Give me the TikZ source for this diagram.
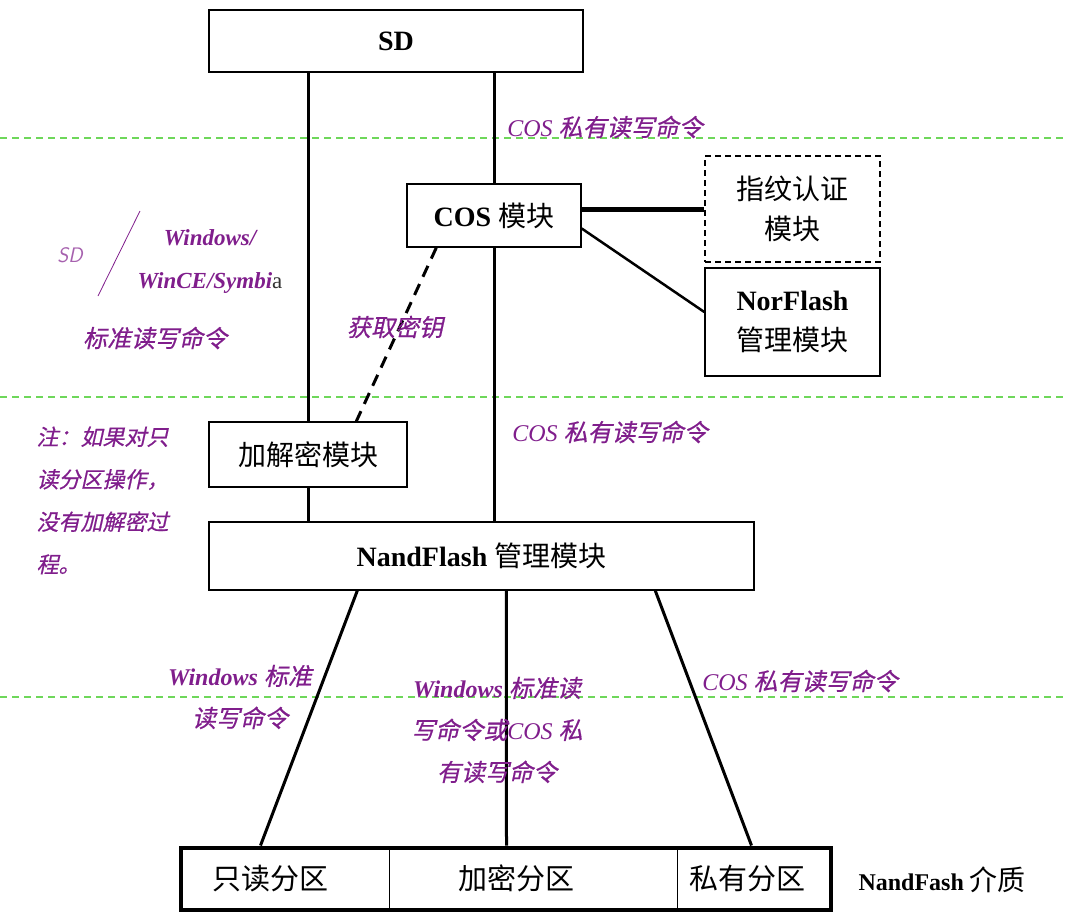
\documentclass[tikz,border=0pt]{standalone}
\usepackage{fontspec}
\setmainfont{Liberation Serif}
\newfontfamily\zh{Noto Sans CJK SC}
\newfontfamily\zhi{Noto Sans CJK SC}[FakeSlant=0.22, FakeBold=0.6]
\usetikzlibrary{fit,calc}
\definecolor{lab}{RGB}{128,30,140}
\definecolor{grn}{RGB}{110,215,90}
\tikzset{
  box/.style={draw, line width=1.4pt, fill=white, inner sep=0pt, align=center, font=\fontsize{28}{40}\selectfont},
  part/.style={draw, line width=1pt, inner sep=0pt, minimum height=61pt, font=\fontsize{29}{32}\selectfont\zh},
  conn/.style={line width=3pt},
  lbl/.style={text=lab, align=center, font=\fontsize{24}{42}\selectfont},
  sep/.style={grn, line width=2pt, dash pattern=on 7pt off 5pt}
}
\begin{document}
\begin{tikzpicture}[x=1pt,y=-1pt]
\useasboundingbox (0,0) rectangle (1065,911);
% separators
\draw[sep] (0,138) -- (1065,138);
\draw[sep] (0,397) -- (1065,397);
\draw[sep] (0,697) -- (1065,697);
% boxes
\node[box, minimum width=374pt, minimum height=62pt] (sd) at (396,41) {\bfseries SD};
\node[box, minimum width=174pt, minimum height=63pt] (cos) at (494,215.5) {\bfseries COS {\zh\mdseries 模块}};
\node[box, dashed, dash pattern=on 6pt off 4pt, minimum width=175pt, minimum height=106pt] (fp) at (792.5,209) {\zh 指纹认证\\\zh 模块};
\node[box, minimum width=175pt, minimum height=108pt] (nor) at (792.5,322) {\bfseries NorFlash\\\zh 管理模块};
\node[box, minimum width=198pt, minimum height=65pt] (enc) at (308,454.5) {\zh 加解密模块};
\node[box, minimum width=545pt, minimum height=68pt] (nand) at (481.5,556) {\bfseries NandFlash {\zh\mdseries 管理模块}};
\node[part, minimum width=208pt] (p1) at (285,878.5) {只读分区\hspace*{30pt}};
\node[part, minimum width=288pt] (p2) at (533,878.5) {加密分区\hspace*{34pt}};
\node[part, minimum width=153pt] (p3) at (753.5,878.5) {私有分区\hspace*{12pt}};
\node[draw, line width=4pt, inner sep=0pt, fit=(p1)(p3)] (media) {};
\node[anchor=west, font=\fontsize{24}{28}\selectfont] (mlab) at (855,880) {\bfseries NandFash {\zh\mdseries\fontsize{28}{30}\selectfont 介质}};
% connectors
\draw[conn] (enc.north |- sd.south) -- (enc.north);
\draw[conn] (enc.south) -- (enc.south |- nand.north);
\draw[conn] (cos.north |- sd.south) -- (cos.north);
\draw[conn] (cos.south) -- (cos.south |- nand.north);
\draw[line width=5pt] (cos.east |- fp.west) -- (fp.west);
\draw[line width=2.5pt] ([yshift=-13pt]cos.east) -- ([yshift=10pt]nor.west);
\draw[line width=3pt, dash pattern=on 12pt off 8pt] ([xshift=30pt]cos.south west) -- ([xshift=148pt]enc.north west);
\draw[conn] ([xshift=149pt]nand.south west) -- ([xshift=82pt]media.north west);
\draw[conn] ([xshift=298pt]nand.south west) -- ([xshift=328pt]media.north west);
\draw[conn] ([xshift=447pt]nand.south west) -- ([xshift=573pt]media.north west);
% labels
\node[lbl] (l1) at (605,127) {\itshape COS {\zhi 私有读写命令}};
\node[text=lab!70, font=\fontsize{21}{24}\selectfont\sffamily\itshape] (l2) at (70,255) {SD};
\coordinate (s1) at (140,211);
\coordinate (s2) at (98,296);
\draw[lab, line width=0.8pt] (s1) -- (s2);
\node[lbl, font=\fontsize{23}{43}\selectfont] (l3) at (210,261) {\bfseries\itshape Windows/\\\bfseries\itshape WinCE/Symbi{\mdseries\upshape\color{black!80}a}};
\node[lbl] (l4) at (155,338) {\zhi 标准读写命令};
\node[lbl] (l5) at (395,327) {\zhi 获取密钥};
\node[lbl] (l6) at (610,432) {\itshape COS {\zhi 私有读写命令}};
\node[lbl, align=left, anchor=north west, font=\fontsize{22}{42.5}\selectfont\zhi] (l7) at (33,423) {注：如果对只\\读分区操作，\\没有加解密过\\程。};
\node[lbl] (l8) at (240,697) {\bfseries\itshape Windows {\zhi\mdseries 标准}\\\zhi 读写命令};
\node[lbl] (l9) at (497,730) {\bfseries\itshape Windows {\zhi\mdseries 标准读}\\{\zhi 写命令或}\itshape COS {\zhi 私}\\\zhi 有读写命令};
\node[lbl] (l10) at (800,681) {\itshape COS {\zhi 私有读写命令}};
\end{tikzpicture}
\end{document}
